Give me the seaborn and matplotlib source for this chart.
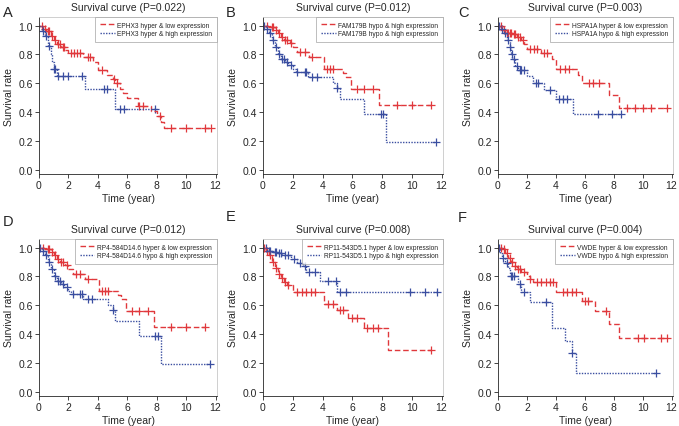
import numpy as np
import pandas as pd
import matplotlib
matplotlib.use("Agg")
import matplotlib.pyplot as plt
import seaborn as sns

sns.set_style("ticks")
plt.rcParams['font.family'] = ['Liberation Sans', 'DejaVu Sans']

RED = '#e0383c'
BLUE = '#3a4ea0'

# panel A - EPHX3
A_red_t = [0, 0.3, 0.5, 0.8, 1.0, 1.2, 1.5, 1.8, 2.0, 3.0, 3.7, 4.0, 4.6, 5.0, 5.2, 5.5, 5.7, 6.0, 6.7, 7.6, 8.0, 8.3, 8.5, 11.7]
A_red_s = [1.0, 0.98, 0.96, 0.93, 0.90, 0.87, 0.85, 0.83, 0.81, 0.78, 0.75, 0.69, 0.66, 0.63, 0.60, 0.56, 0.53, 0.50, 0.44, 0.41, 0.37, 0.33, 0.29, 0.29]
A_red_c = [0.2, 0.4, 0.6, 0.7, 0.9, 1.1, 1.3, 1.4, 1.6, 1.7, 2.2, 2.4, 2.6, 2.8, 3.3, 3.5, 4.3, 5.1, 5.3, 6.8, 7.1, 8.2, 9.0, 10.0, 11.3, 11.7]
A_blue_t = [0, 0.2, 0.4, 0.6, 0.8, 0.9, 1.0, 1.2, 3.1, 5.2, 8.0]
A_blue_s = [1.0, 0.96, 0.93, 0.86, 0.80, 0.75, 0.70, 0.65, 0.56, 0.42, 0.42]
A_blue_c = [0.3, 0.5, 0.7, 1.05, 1.1, 1.3, 1.6, 2.0, 2.9, 4.4, 4.6, 5.5, 5.8, 7.9]

# panel B - FAM179B
B_red_t = [0, 0.5, 0.8, 1.0, 1.2, 1.4, 1.8, 2.0, 2.3, 3.1, 4.1, 5.4, 5.6, 5.9, 7.8, 11.3]
B_red_s = [1.0, 0.99, 0.97, 0.95, 0.92, 0.90, 0.88, 0.85, 0.82, 0.78, 0.70, 0.67, 0.64, 0.56, 0.45, 0.45]
B_red_c = [0.3, 0.6, 0.7, 0.9, 1.1, 1.3, 1.5, 1.6, 1.9, 2.5, 2.8, 3.3, 4.3, 4.5, 4.7, 6.3, 6.8, 7.4, 9.0, 10.0, 11.3]
B_blue_t = [0, 0.2, 0.4, 0.6, 0.8, 1.0, 1.2, 1.5, 1.7, 2.0, 2.2, 3.0, 4.7, 5.0, 5.2, 6.8, 8.3, 11.6]
B_blue_s = [1.0, 0.98, 0.95, 0.90, 0.85, 0.80, 0.77, 0.75, 0.73, 0.70, 0.68, 0.64, 0.60, 0.57, 0.49, 0.39, 0.19, 0.19]
B_blue_c = [0.1, 0.3, 0.5, 0.7, 0.9, 1.1, 1.3, 1.4, 1.6, 1.9, 2.3, 2.8, 2.9, 3.3, 3.6, 5.0, 7.9, 8.1, 11.6]

# panel C - HSPA1A
C_red_t = [0, 0.3, 0.5, 1.0, 1.3, 1.6, 1.8, 2.0, 3.0, 3.7, 4.0, 5.5, 5.8, 7.7, 8.4, 11.7]
C_red_s = [1.0, 0.97, 0.95, 0.94, 0.92, 0.90, 0.87, 0.84, 0.81, 0.77, 0.70, 0.66, 0.60, 0.52, 0.43, 0.43]
C_red_c = [0.2, 0.4, 0.6, 0.7, 0.8, 0.9, 1.1, 1.2, 1.4, 1.5, 1.7, 2.2, 2.5, 2.7, 3.2, 3.4, 4.3, 4.6, 4.9, 6.3, 6.6, 7.0, 8.9, 9.5, 10.0, 10.6, 11.7]
C_blue_t = [0, 0.2, 0.4, 0.6, 0.8, 0.9, 1.0, 1.2, 1.4, 2.0, 2.4, 3.2, 4.0, 5.2, 8.5]
C_blue_s = [1.0, 0.98, 0.95, 0.90, 0.85, 0.80, 0.77, 0.72, 0.69, 0.65, 0.60, 0.55, 0.49, 0.39, 0.39]
C_blue_c = [0.1, 0.3, 0.5, 0.7, 0.85, 0.95, 1.1, 1.3, 1.5, 1.6, 1.8, 2.6, 2.8, 3.6, 4.2, 4.5, 4.8, 6.9, 7.9, 8.5]

# panel D - RP4-584D14.6 (same curves as B)
D_red_t, D_red_s, D_red_c = B_red_t, B_red_s, B_red_c
D_blue_t, D_blue_s, D_blue_c = B_blue_t, B_blue_s, B_blue_c

# panel E - RP11-543D5.1
E_red_t = [0, 0.2, 0.4, 0.6, 0.8, 1.0, 1.2, 1.4, 1.6, 2.0, 4.1, 5.0, 5.7, 6.8, 8.4, 11.3]
E_red_s = [1.0, 0.98, 0.95, 0.90, 0.86, 0.82, 0.79, 0.76, 0.74, 0.69, 0.61, 0.57, 0.51, 0.44, 0.29, 0.29]
E_red_c = [0.1, 0.3, 0.5, 0.7, 0.9, 1.1, 1.3, 1.5, 1.7, 2.3, 2.6, 2.9, 3.2, 3.5, 4.4, 4.7, 5.2, 5.4, 6.0, 6.3, 7.0, 7.4, 7.7, 11.3]
E_blue_t = [0, 0.3, 0.6, 1.0, 1.3, 1.9, 2.3, 2.7, 2.9, 3.8, 5.0, 11.7]
E_blue_s = [1.0, 0.98, 0.97, 0.96, 0.95, 0.92, 0.89, 0.87, 0.83, 0.77, 0.69, 0.69]
E_blue_c = [0.2, 0.4, 0.5, 0.8, 0.9, 1.1, 1.2, 1.5, 1.7, 2.1, 2.5, 2.8, 3.1, 3.5, 4.4, 4.9, 5.2, 5.6, 9.9, 10.9, 11.7]

# panel F - VWDE
F_red_t = [0, 0.3, 0.5, 0.7, 0.9, 1.1, 1.3, 1.6, 2.0, 2.2, 2.4, 4.0, 5.8, 6.7, 7.7, 8.4, 11.7]
F_red_s = [1.0, 0.99, 0.96, 0.93, 0.90, 0.87, 0.85, 0.83, 0.80, 0.78, 0.76, 0.69, 0.63, 0.56, 0.47, 0.37, 0.37]
F_red_c = [0.2, 0.4, 0.6, 0.8, 1.0, 1.2, 1.4, 1.5, 1.8, 2.2, 2.7, 3.0, 3.3, 3.6, 3.8, 4.5, 4.8, 5.1, 5.4, 6.0, 6.2, 7.5, 9.7, 10.1, 11.3, 11.7]
F_blue_t = [0, 0.15, 0.3, 0.5, 0.7, 0.8, 0.9, 1.4, 1.6, 2.2, 3.7, 4.6, 5.1, 5.4, 10.9]
F_blue_s = [1.0, 0.96, 0.93, 0.89, 0.86, 0.82, 0.80, 0.75, 0.69, 0.62, 0.44, 0.35, 0.27, 0.13, 0.13]
F_blue_c = [0.1, 0.35, 0.6, 0.9, 1.0, 1.1, 1.5, 1.8, 3.3, 5.1, 10.9]

panels = [
    ('A', '0.022', 'EPHX3 hyper & low expression', 'EPHX3 hyper & high expression',
     A_red_t, A_red_s, A_red_c, A_blue_t, A_blue_s, A_blue_c),
    ('B', '0.012', 'FAM179B hypo & high expression', 'FAM179B hypo & high expression',
     B_red_t, B_red_s, B_red_c, B_blue_t, B_blue_s, B_blue_c),
    ('C', '0.003', 'HSPA1A hyper & low expression', 'HSPA1A hypo & high expression',
     C_red_t, C_red_s, C_red_c, C_blue_t, C_blue_s, C_blue_c),
    ('D', '0.012', 'RP4-584D14.6 hyper & low expression', 'RP4-584D14.6 hypo & high expression',
     D_red_t, D_red_s, D_red_c, D_blue_t, D_blue_s, D_blue_c),
    ('E', '0.008', 'RP11-543D5.1 hyper & low expression', 'RP11-543D5.1 hypo & high expression',
     E_red_t, E_red_s, E_red_c, E_blue_t, E_blue_s, E_blue_c),
    ('F', '0.004', 'VWDE hyper & low expression', 'VWDE hypo & high expression',
     F_red_t, F_red_s, F_red_c, F_blue_t, F_blue_s, F_blue_c),
]

W, H = 679, 427
fig = plt.figure(figsize=(W / 100, H / 100), dpi=100)
# axes boxes in pixels: left, top, right, bottom
boxes = [(39, 18, 217, 175), (263, 18, 443, 175), (498, 18, 673, 175),
         (39, 240, 217, 397), (263, 240, 443, 397), (498, 240, 673, 397)]
letter_pos = [(3, 13), (226, 13), (458, 13), (3, 222), (226, 217), (458, 218)]


def censor_y(t, s, c):
    idx = np.searchsorted(t, c, side='right') - 1
    return np.array(s)[idx]


for (letter, p, lab_r, lab_b, rt, rs, rc, bt, bs, bc), (l, tp, r, b), (lx, ly) in zip(panels, boxes, letter_pos):
    ax = fig.add_axes([l / W, 1 - b / H, (r - l) / W, (b - tp) / H])
    red = pd.DataFrame({'t': rt, 's': rs})
    blue = pd.DataFrame({'t': bt, 's': bs})
    sns.lineplot(data=red, x='t', y='s', ax=ax, color=RED, lw=1.0, drawstyle='steps-post',
                 estimator=None, sort=False, dashes=False, linestyle=(0, (4, 2)), label=lab_r)
    sns.lineplot(data=blue, x='t', y='s', ax=ax, color=BLUE, lw=1.0, drawstyle='steps-post',
                 estimator=None, sort=False, dashes=False, linestyle=(0, (1, 1)), label=lab_b)
    sns.scatterplot(x=rc, y=censor_y(rt, rs, rc), ax=ax, marker='+', color=RED, s=30, linewidth=0.9)
    sns.scatterplot(x=bc, y=censor_y(bt, bs, bc), ax=ax, marker='+', color=BLUE, s=30, linewidth=0.9)

    ax.set_xlim(0, 12.1)
    ax.set_ylim(-0.03, 1.06)
    ax.set_xticks(range(0, 13, 2))
    ax.set_yticks(np.arange(0, 1.01, 0.2))
    ax.set_yticklabels([f'{v:.1f}' for v in np.arange(0, 1.01, 0.2)])
    ax.tick_params(labelsize=7.5, length=3, width=0.6, pad=1.5)
    for sp in ['top', 'right']:
        ax.spines[sp].set_color('#c8c8c8')
        ax.spines[sp].set_linewidth(0.6)
    for sp in ['left', 'bottom']:
        ax.spines[sp].set_linewidth(0.6)
    ax.set_xlabel('Time (year)', fontsize=7.5, labelpad=2)
    ax.set_ylabel('Survival rate', fontsize=7.5, labelpad=3)
    ax.set_title(f'Survival curve (P={p})', fontsize=7.5, pad=5)
    leg = ax.legend(loc='upper right', fontsize=4.8, frameon=True, fancybox=False,
                    borderaxespad=0, handlelength=2.2, labelspacing=0.25, borderpad=0.7,
                    handletextpad=0.4)
    leg.get_frame().set_edgecolor('#a0a0a0')
    leg.get_frame().set_linewidth(0.6)
    fig.text(lx / W, 1 - ly / H, letter, fontsize=10.5, va='center', ha='left')

fig.savefig('out.png', dpi=100)
